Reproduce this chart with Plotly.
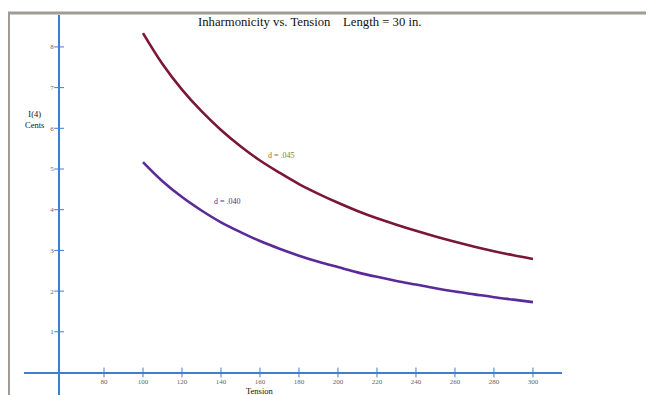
import plotly.graph_objects as go

# Data
tension = [100, 110, 120, 130, 140, 150, 160, 170, 180, 190, 200,
           210, 220, 230, 240, 250, 260, 270, 280, 290, 300]
cents_045 = [8.34, 7.58, 6.95, 6.42, 5.96, 5.56, 5.21, 4.91, 4.63, 4.39, 4.17,
             3.97, 3.79, 3.63, 3.48, 3.34, 3.21, 3.09, 2.98, 2.88, 2.79]
cents_040 = [5.17, 4.70, 4.31, 3.98, 3.69, 3.45, 3.23, 3.04, 2.87, 2.72, 2.59,
             2.46, 2.35, 2.25, 2.16, 2.07, 1.99, 1.92, 1.85, 1.79, 1.73]
x_ticks = [80, 100, 120, 140, 160, 180, 200, 220, 240, 260, 280, 300]
y_ticks = [1, 2, 3, 4, 5, 6, 7, 8]
y_axis_at = 57  # tension value where the vertical axis crosses

OFF = 8                  # page body margin
W, H = 654 - OFF, 395 - OFF
AXIS = "#3c7fd0"
FONT = "Liberation Serif"


def px(x):  # screenshot x -> paper fraction
    return (x - OFF) / W


def py(y):  # screenshot y -> paper fraction
    return 1 - (y - OFF) / H


fig = go.Figure()

fig.add_trace(go.Scatter(x=tension, y=cents_045, mode="lines",
                         line=dict(color="#7a1636", width=2.6, shape="spline"),
                         hoverinfo="skip"))
fig.add_trace(go.Scatter(x=tension, y=cents_040, mode="lines",
                         line=dict(color="#5a2a98", width=2.6, shape="spline"),
                         hoverinfo="skip"))

# crossing tick marks
fig.add_trace(go.Scatter(x=[y_axis_at] * len(y_ticks), y=y_ticks, mode="markers",
                         marker=dict(symbol="line-ew", size=7,
                                     line=dict(color=AXIS, width=1)),
                         hoverinfo="skip", cliponaxis=False))
fig.add_trace(go.Scatter(x=x_ticks, y=[0] * len(x_ticks), mode="markers",
                         marker=dict(symbol="line-ns", size=7,
                                     line=dict(color=AXIS, width=1)),
                         hoverinfo="skip", cliponaxis=False))

fig.add_annotation(x=171, y=5.34, text="d = .045", showarrow=False,
                   font=dict(family=FONT, size=8, color="#8c7530"))
fig.add_annotation(x=143.5, y=4.21, text="d = .040", showarrow=False,
                   font=dict(family=FONT, size=8, color="#5a2a98"))

# titles
fig.add_annotation(xref="paper", yref="paper", x=px(309), y=py(22),
                   xanchor="center", yanchor="middle",
                   text="Inharmonicity vs. Tension    Length = 30 in.",
                   showarrow=False, font=dict(family=FONT, size=12.7, color="#111"))
fig.add_annotation(xref="paper", yref="paper", x=px(34), y=py(119),
                   xanchor="center", yanchor="middle",
                   text="I(4)<br>Cents", showarrow=False,
                   font=dict(family=FONT, size=8.5, color="#111"))
fig.add_annotation(xref="paper", yref="paper", x=px(260), y=py(391),
                   xanchor="center", yanchor="middle",
                   text="Tension", showarrow=False,
                   font=dict(family=FONT, size=8.5, color="#111"))

# frame border (top and left)
fig.add_shape(type="line", xref="paper", yref="paper",
              x0=px(7), x1=1, y0=py(13), y1=py(13),
              line=dict(color="#a09b94", width=3))
fig.add_shape(type="line", xref="paper", yref="paper",
              x0=px(8.5), x1=px(8.5), y0=py(12), y1=0,
              line=dict(color="#a09b94", width=3))

fig.update_layout(
    width=W, height=H, autosize=False,
    margin=dict(l=0, r=0, t=0, b=0),
    paper_bgcolor="white", plot_bgcolor="white",
    showlegend=False,
    xaxis=dict(domain=[px(24), px(562)], range=[38.97, 314.9],
               anchor="free", position=py(372.5),
               showline=True, linecolor=AXIS, linewidth=1.5,
               showgrid=False, zeroline=False,
               tickmode="array", tickvals=x_ticks, ticks="",
               ticklabelstandoff=2,
               tickfont=dict(family=FONT, size=7, color="#666")),
    yaxis=dict(domain=[0, py(15)], range=[-0.553, 8.784],
               anchor="free", position=px(59),
               showline=True, linecolor=AXIS, linewidth=1.5,
               showgrid=False, zeroline=False,
               tickmode="array", tickvals=y_ticks, ticks="",
               ticklabelstandoff=3,
               tickfont=dict(family=FONT, size=7, color="#666")),
)

fig.write_html("out.html")
